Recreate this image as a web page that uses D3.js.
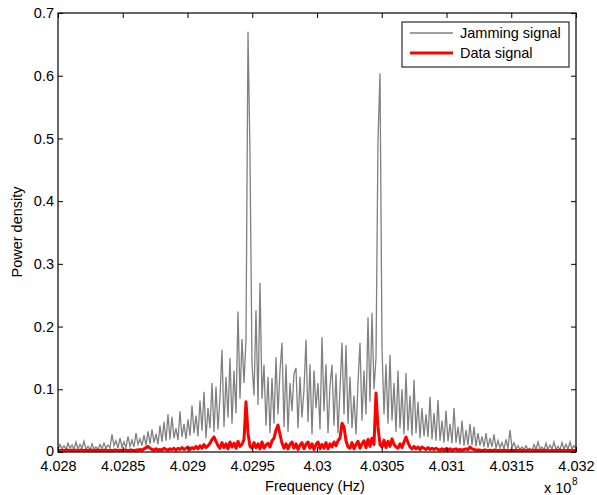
<!DOCTYPE html>
<html>
<head>
<meta charset="utf-8">
<script src="https://cdn.jsdelivr.net/npm/d3@7"></script>
<style>
  html, body { margin: 0; padding: 0; background: #fff; }
  text { font-family: "Liberation Sans", Arial, Helvetica, sans-serif; fill: #000; }
</style>
</head>
<body>
<svg id="chart" width="597" height="495"></svg>
<script>
// ---- data (frequency in units of 1e8 Hz) ----
const freqStart = 4.028;
const freqEnd = 4.032;
const xTickValues = [4.028, 4.0285, 4.029, 4.0295, 4.03, 4.0305, 4.031, 4.0315, 4.032];
const xTickLabels = ["4.028", "4.0285", "4.029", "4.0295", "4.03", "4.0305", "4.031", "4.0315", "4.032"];
const yTickValues = [0, 0.1, 0.2, 0.3, 0.4, 0.5, 0.6, 0.7];
const yTickLabels = ["0", "0.1", "0.2", "0.3", "0.4", "0.5", "0.6", "0.7"];
const seriesNames = ["Jamming signal", "Data signal"];

const jamming = [
0.004,0.012,0.005,0.010,0.004,0.014,0.006,0.011,0.004,0.016,
0.005,0.012,0.006,0.017,0.004,0.009,0.003,0.013,0.005,0.008,
0.004,0.012,0.005,0.014,0.006,0.011,0.007,0.028,0.010,0.018,
0.006,0.022,0.008,0.016,0.007,0.025,0.009,0.019,0.008,0.030,
0.012,0.021,0.010,0.027,0.011,0.033,0.013,0.036,0.015,0.029,
0.012,0.042,0.016,0.048,0.018,0.060,0.020,0.056,0.022,0.038,
0.019,0.065,0.024,0.045,0.021,0.052,0.026,0.074,0.030,0.058,
0.025,0.082,0.034,0.096,0.022,0.070,0.038,0.110,0.032,0.104,
0.036,0.088,0.163,0.040,0.120,0.055,0.150,0.045,0.130,0.062,
0.224,0.085,0.180,0.110,0.180,0.670,0.472,0.140,0.090,0.226,
0.075,0.270,0.085,0.139,0.042,0.120,0.030,0.118,0.045,0.151,
0.060,0.130,0.174,0.040,0.140,0.032,0.110,0.065,0.125,0.134,
0.038,0.120,0.055,0.100,0.179,0.048,0.140,0.028,0.130,0.070,
0.110,0.036,0.183,0.065,0.140,0.030,0.105,0.139,0.042,0.125,
0.030,0.100,0.174,0.060,0.170,0.045,0.120,0.038,0.090,0.028,
0.110,0.174,0.050,0.130,0.060,0.215,0.080,0.222,0.100,0.150,
0.497,0.604,0.167,0.060,0.140,0.045,0.155,0.050,0.110,0.032,
0.130,0.038,0.100,0.028,0.126,0.034,0.090,0.026,0.115,0.030,
0.080,0.022,0.070,0.025,0.060,0.024,0.088,0.020,0.062,0.018,
0.083,0.018,0.050,0.015,0.066,0.017,0.045,0.014,0.070,0.015,
0.040,0.012,0.050,0.010,0.035,0.011,0.045,0.011,0.040,0.009,
0.030,0.010,0.025,0.008,0.030,0.007,0.022,0.008,0.028,0.006,
0.018,0.007,0.015,0.005,0.020,0.006,0.035,0.007,0.015,0.005,
0.010,0.004,0.008,0.003,0.010,0.004,0.006,0.003,0.012,0.004,
0.016,0.005,0.008,0.003,0.014,0.004,0.011,0.005,0.016,0.004,
0.009,0.003,0.015,0.005,0.012,0.004,0.016,0.005,0.010,0.006
];

const dataSignal = [
0.003,0.002,0.003,0.002,0.003,0.003,0.002,0.003,0.002,0.003,
0.002,0.003,0.003,0.002,0.003,0.002,0.003,0.003,0.002,0.003,
0.002,0.003,0.002,0.003,0.003,0.002,0.003,0.002,0.003,0.003,
0.002,0.003,0.002,0.003,0.003,0.002,0.003,0.003,0.002,0.003,
0.003,0.004,0.003,0.005,0.007,0.009,0.006,0.004,0.003,0.005,
0.003,0.004,0.003,0.006,0.004,0.003,0.005,0.004,0.006,0.003,
0.006,0.004,0.007,0.004,0.006,0.008,0.004,0.007,0.005,0.009,
0.005,0.010,0.006,0.012,0.007,0.010,0.014,0.020,0.024,0.017,
0.010,0.006,0.015,0.007,0.013,0.005,0.016,0.008,0.014,0.006,
0.017,0.009,0.012,0.020,0.080,0.030,0.009,0.006,0.015,0.007,
0.013,0.005,0.016,0.006,0.011,0.014,0.008,0.018,0.022,0.035,
0.043,0.028,0.014,0.006,0.013,0.005,0.012,0.016,0.006,0.013,
0.004,0.011,0.015,0.005,0.012,0.016,0.006,0.013,0.004,0.012,
0.016,0.005,0.012,0.006,0.015,0.005,0.013,0.008,0.016,0.010,
0.018,0.022,0.046,0.040,0.018,0.008,0.006,0.015,0.005,0.012,
0.017,0.006,0.013,0.018,0.007,0.020,0.009,0.022,0.012,0.094,
0.040,0.012,0.008,0.019,0.007,0.017,0.009,0.021,0.012,0.008,
0.006,0.013,0.007,0.016,0.024,0.015,0.008,0.005,0.009,0.005,
0.008,0.004,0.008,0.006,0.004,0.007,0.004,0.006,0.004,0.006,
0.004,0.003,0.005,0.003,0.005,0.003,0.005,0.003,0.004,0.005,
0.003,0.004,0.003,0.004,0.005,0.004,0.008,0.005,0.004,0.003,
0.003,0.003,0.002,0.003,0.003,0.002,0.003,0.002,0.003,0.003,
0.002,0.003,0.002,0.003,0.002,0.003,0.002,0.003,0.002,0.003,
0.002,0.003,0.002,0.003,0.002,0.003,0.002,0.002,0.003,0.002,
0.003,0.002,0.003,0.002,0.003,0.002,0.002,0.003,0.002,0.003,
0.002,0.003,0.002,0.003,0.002,0.003,0.002,0.003,0.002,0.003
];

// ---- layout ----
const svg = d3.select("#chart");
const mLeft = 58, mRight = 576, mTop = 13, mBottom = 452;
const x = d3.scaleLinear().domain([freqStart, freqEnd]).range([mLeft, mRight]);
const y = d3.scaleLinear().domain([0, 0.7]).range([mBottom, mTop]);
const freqOf = (arr) => arr.map((_, i) => freqStart + i * (freqEnd - freqStart) / (arr.length - 1));

svg.append("defs").append("clipPath").attr("id", "plotclip")
  .append("rect").attr("x", mLeft).attr("y", mTop).attr("width", mRight - mLeft).attr("height", mBottom - mTop);

const line = d3.line().x(d => x(d[0])).y(d => y(d[1]));
const plot = svg.append("g").attr("clip-path", "url(#plotclip)");

const jf = freqOf(jamming);
plot.append("path")
  .datum(jamming.map((v, i) => [jf[i], v]))
  .attr("d", line).attr("fill", "none")
  .attr("stroke", "#808080").attr("stroke-width", 1.3).attr("stroke-linejoin", "miter");

const df = freqOf(dataSignal);
plot.append("path")
  .datum(dataSignal.map((v, i) => [df[i], v]))
  .attr("d", line).attr("fill", "none")
  .attr("stroke", "#ff0000").attr("stroke-width", 3).attr("stroke-linejoin", "round");

// ---- axes ----
const fs = "14.5px";
const xb = svg.append("g").attr("transform", `translate(0,${mBottom})`)
  .call(d3.axisBottom(x).tickValues(xTickValues).tickFormat((d, i) => xTickLabels[i])
    .tickSizeInner(-5).tickSizeOuter(0).tickPadding(9));
const xt = svg.append("g").attr("transform", `translate(0,${mTop})`)
  .call(d3.axisTop(x).tickValues(xTickValues).tickFormat("").tickSizeInner(-5).tickSizeOuter(0));
const yl = svg.append("g").attr("transform", `translate(${mLeft},0)`)
  .call(d3.axisLeft(y).tickValues(yTickValues).tickFormat((d, i) => yTickLabels[i])
    .tickSizeInner(-5).tickSizeOuter(0).tickPadding(4));
const yr = svg.append("g").attr("transform", `translate(${mRight},0)`)
  .call(d3.axisRight(y).tickValues(yTickValues).tickFormat("").tickSizeInner(-5).tickSizeOuter(0));
[xb, xt, yl, yr].forEach(g => {
  g.select(".domain").remove();
  g.selectAll(".tick line").attr("stroke", "#000").attr("stroke-width", 1);
  g.selectAll(".tick text").style("font-size", fs).attr("fill", "#000")
   .style("font-family", '"Liberation Sans", Arial, sans-serif');
});
// nudge the y-axis "0" label up slightly so it does not touch the x labels
yl.selectAll(".tick text").filter((d, i) => i === 0).attr("dy", "0.25em");

svg.append("rect").attr("x", mLeft).attr("y", mTop).attr("width", mRight - mLeft).attr("height", mBottom - mTop)
  .attr("fill", "none").attr("stroke", "#000").attr("stroke-width", 1.2);

// axis titles
svg.append("text").attr("x", (mLeft + mRight) / 2 - 2).attr("y", 491).attr("text-anchor", "middle")
  .style("font-size", fs).text("Frequency (Hz)");
svg.append("text").attr("transform", "translate(22,232) rotate(-90)").attr("text-anchor", "middle")
  .style("font-size", fs).text("Power density");
svg.append("text").attr("x", 544).attr("y", 493).style("font-size", fs).text("x 10");
svg.append("text").attr("x", 572).attr("y", 485).style("font-size", "10px").text("8");

// ---- legend ----
const lg = svg.append("g");
lg.append("rect").attr("x", 402).attr("y", 22).attr("width", 167).attr("height", 45)
  .attr("fill", "#fff").attr("stroke", "#000").attr("stroke-width", 1);
const colors = ["#808080", "#ff0000"], widths = [1.3, 3];
seriesNames.forEach((n, i) => {
  const yy = 33 + i * 20;
  lg.append("line").attr("x1", 410).attr("x2", 453).attr("y1", yy).attr("y2", yy)
    .attr("stroke", colors[i]).attr("stroke-width", widths[i]);
  lg.append("text").attr("x", 460).attr("y", yy + 5).style("font-size", fs).text(n);
});
</script>
</body>
</html>
